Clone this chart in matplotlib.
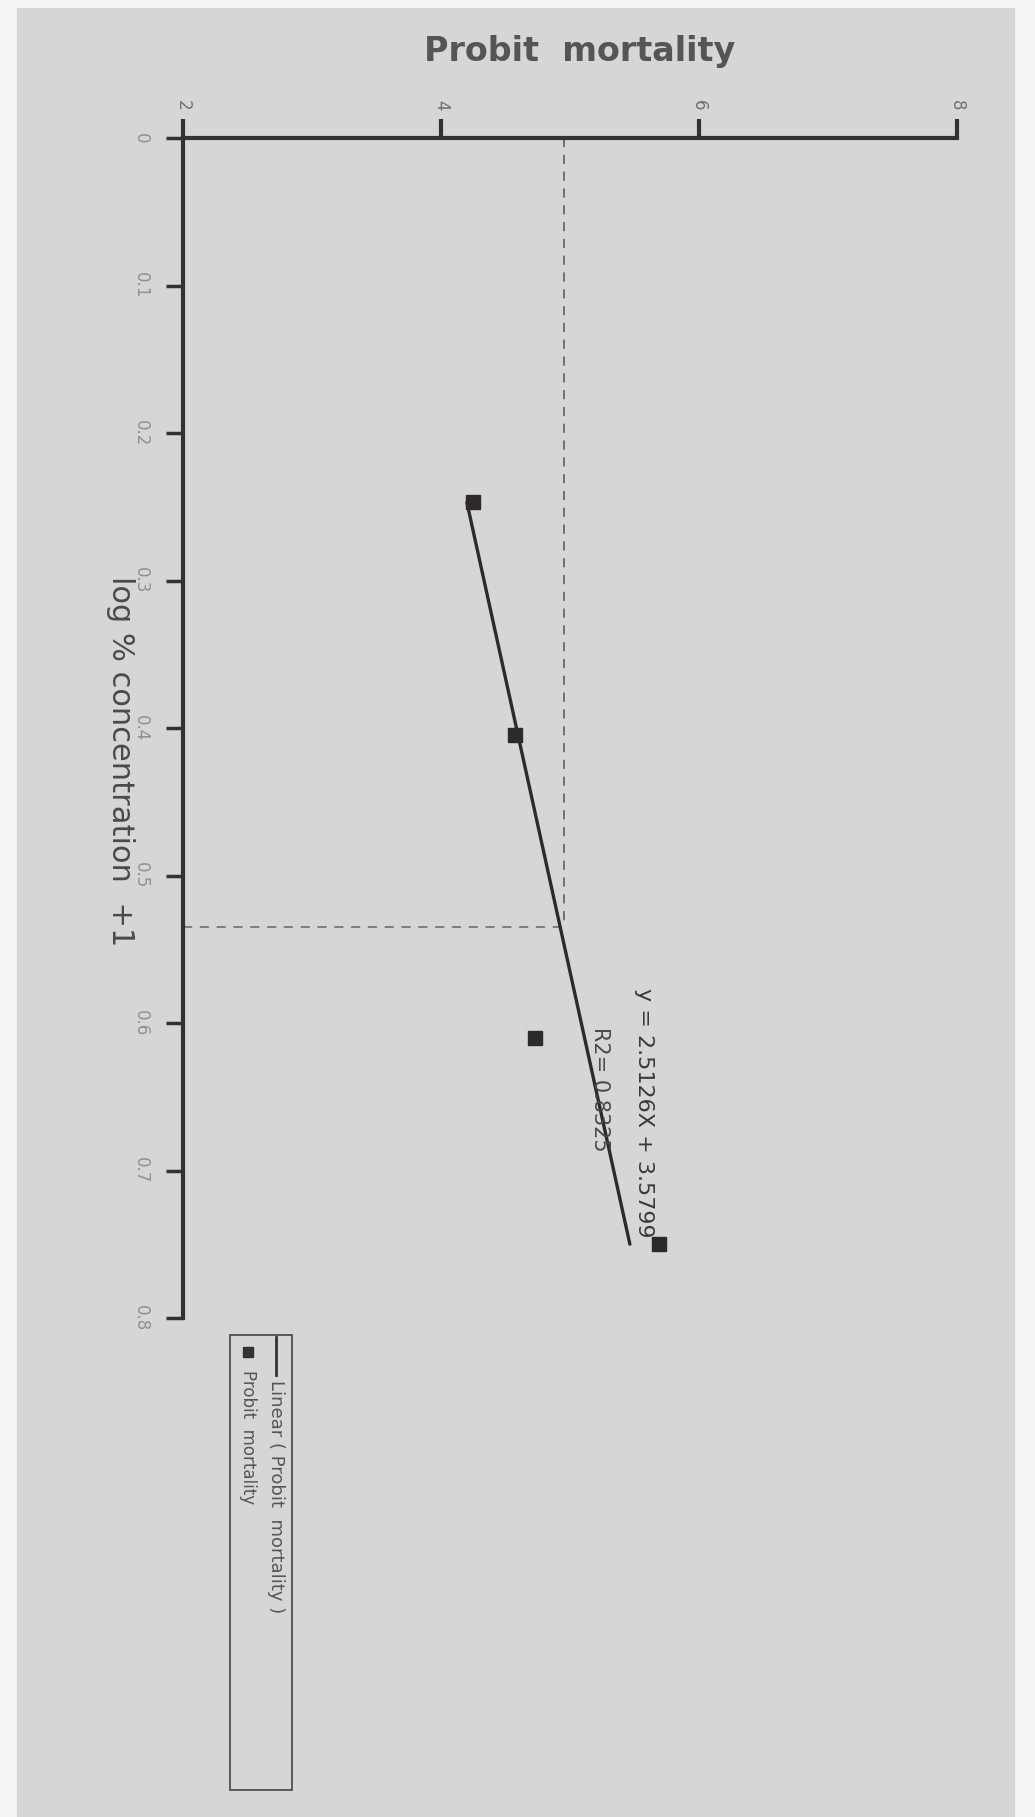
import matplotlib
matplotlib.use('Agg')
import matplotlib.pyplot as plt
from matplotlib.patches import Rectangle
from matplotlib.lines import Line2D

# ---- data ----
log_conc = [0.247, 0.405, 0.610, 0.750]        # log % concentration + 1
probit = [4.25, 4.57, 4.73, 5.69]              # probit mortality
slope, intercept = 2.5126, 3.5799              # linear fit
fit_range = [0.247, 0.750]
lc50_probit = 4.95
lc50_logc = 0.535
probit_ticks = [2, 4, 6, 8]
conc_ticks = [0, 0.1, 0.2, 0.3, 0.4, 0.5, 0.6, 0.7, 0.8]
conc_ticklabels = ['0', '0.1', '0.2', '0.3', '0.4', '0.5', '0.6', '0.7', '0.8']
eq_text = 'y = 2.5126X + 3.5799'
r2_text = 'R2= 0.8325'

W, H = 1035, 1817
plt.rcParams['font.family'] = ['DejaVu Sans']

fig = plt.figure(figsize=(W / 100, H / 100), dpi=100)
fig.patch.set_facecolor('#d6d6d6')
# white scan borders
for (x0, y0, w, h) in [(0, 0, 17, H), (1015, 0, 20, H), (0, 0, W, 8)]:
    fig.add_artist(Rectangle((x0 / W, 1 - (y0 + h) / H), w / W, h / H,
                             transform=fig.transFigure, color='#f4f4f4', lw=0))

def fx(px):
    return px / W

def fy(py):
    return 1 - py / H

left, right, top, bottom = 183, 957, 138, 1318
ax = fig.add_axes([fx(left), fy(bottom), (right - left) / W, (bottom - top) / H])
ax.set_facecolor('none')
ax.set_xlim(2, 8)
ax.set_ylim(0.8, 0)

dark = '#353033'
for s in ['bottom', 'right']:
    ax.spines[s].set_visible(False)
for s in ['top', 'left']:
    ax.spines[s].set_linewidth(3)
    ax.spines[s].set_color(dark)

ax.xaxis.tick_top()
ax.set_xticks(probit_ticks)
ax.set_xticklabels([str(v) for v in probit_ticks])
ax.set_yticks(conc_ticks)
ax.set_yticklabels(conc_ticklabels)
ax.tick_params(axis='x', direction='out', length=14, width=3, color=dark,
               labelrotation=-90, labelsize=12, labelcolor='#707070', pad=6)
ax.tick_params(axis='y', direction='out', length=12, width=2.5, color=dark,
               labelrotation=-90, labelsize=12, labelcolor='#909090', pad=18)
for lab in ax.get_yticklabels():
    lab.set_va('center')
    lab.set_ha('center')

# dashed LC50 guides
ax.plot([lc50_probit, lc50_probit], [0, lc50_logc], ls=(0, (6, 5)), color='#555555', lw=1.1)
ax.plot([2, lc50_probit], [lc50_logc, lc50_logc], ls=(0, (6, 5)), color='#666666', lw=1.1)

# regression line
fit_probit = [slope * c + intercept for c in fit_range]
ax.plot(fit_probit, fit_range, color='#2e2a2c', lw=2.4, solid_capstyle='round')
# data points
ax.plot(probit, log_conc, 's', color='#2e2a2c', ms=10, ls='none')

# equation texts
ax.text(5.57, 0.661, eq_text, rotation=-90, ha='center', va='center',
        fontsize=16, color='#3a3a3a')
ax.text(5.23, 0.645, r2_text, rotation=-90, ha='center', va='center',
        fontsize=15, color='#4a4a4a')

# titles
fig.text(fx(580), fy(52), 'Probit  mortality', ha='center', va='center',
         fontsize=24, fontweight='bold', color='#555555')
fig.text(fx(120), fy(761), 'log % concentration  +1', ha='center', va='center',
         rotation=-90, fontsize=22, color='#4a4a4a')

# legend (manual, rotated)
lx0, lx1, ly0, ly1 = 230, 292, 1335, 1790
fig.add_artist(Rectangle((fx(lx0), fy(ly1)), (lx1 - lx0) / W, (ly1 - ly0) / H,
                         transform=fig.transFigure, fill=False, lw=1.2, ec='#444444'))
fig.add_artist(Line2D([fx(248)], [fy(1352)], marker='s', ms=7, color='#333333',
                      transform=fig.transFigure))
fig.text(fx(248), fy(1370), 'Probit  mortality', rotation=-90, ha='center', va='top',
         fontsize=12, color='#555555')
fig.add_artist(Line2D([fx(276), fx(276)], [fy(1337), fy(1375)], lw=2, color='#333333',
                      transform=fig.transFigure))
fig.text(fx(276), fy(1380), 'Linear ( Probit  mortality )', rotation=-90, ha='center',
         va='top', fontsize=13, color='#555555')

fig.savefig('out.png', dpi=100, facecolor=fig.get_facecolor())
